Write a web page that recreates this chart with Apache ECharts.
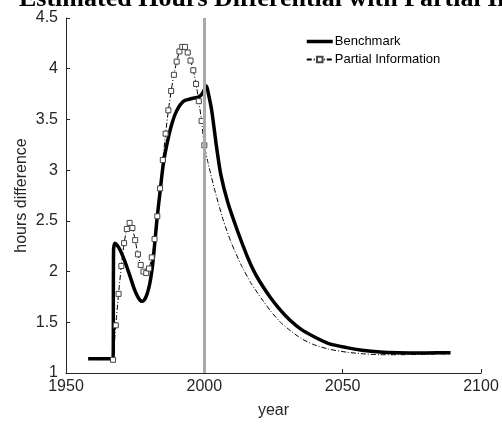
<!DOCTYPE html>
<html>
<head>
<meta charset="utf-8">
<script src="https://cdn.jsdelivr.net/npm/echarts@6/dist/echarts.min.js"></script>
<style>html,body{margin:0;padding:0;background:#fff;}#c{width:502px;height:428px;}</style>
</head>
<body>
<div id="c"></div>
<script>
var titleText = 'Estimated Hours Differential with Partial Information';
var xTicks = [1950, 2000, 2050, 2100];
var yTicks = [1, 1.5, 2, 2.5, 3, 3.5, 4, 4.5];
var policyYear = 2000;

var benchYears = [1958, 1967, 1967.2, 1967.7, 1968.5, 1969.6, 1971, 1972, 1973.2, 1974.4, 1975.6, 1976.8, 1977.5, 1978.3, 1979.2, 1980.2, 1981, 1981.6, 1982.85, 1984.05, 1985.2, 1986.5, 1988.3, 1990.1, 1992.5, 1995.5, 1997.9, 1999.3, 2000.76, 2001.5, 2002.6, 2003.5, 2004.4, 2006, 2008.5, 2012, 2015.5, 2018, 2021, 2024, 2027.5, 2031, 2035, 2039.5, 2045, 2051.5, 2057, 2063.5, 2070, 2080, 2089];
var benchValues = [1.14, 1.14, 2.22, 2.28, 2.26, 2.21, 2.12, 2.045, 1.95, 1.85, 1.77, 1.717, 1.707, 1.72, 1.77, 1.87, 2.0, 2.14, 2.506, 2.80, 3.065, 3.26, 3.46, 3.59, 3.68, 3.706, 3.72, 3.755, 3.83, 3.75, 3.60, 3.42, 3.23, 2.95, 2.68, 2.40, 2.15, 2.0, 1.86, 1.74, 1.62, 1.52, 1.43, 1.36, 1.29, 1.25, 1.225, 1.207, 1.2, 1.198, 1.2];

var partialYears = [1967, 1968, 1969, 1970, 1971, 1972, 1973, 1974, 1975, 1976, 1977, 1978, 1979, 1980, 1981, 1982, 1983, 1984, 1985, 1986, 1987, 1988, 1989, 1990, 1991, 1992, 1993, 1994, 1995, 1996, 1997, 1998, 1999, 2000, 2001.4, 2003.8, 2006.8, 2009.8, 2013.4, 2017, 2021, 2024, 2027.5, 2031, 2035, 2039.5, 2045, 2051.5, 2057, 2063.5, 2070, 2080, 2089];
var partialValues = [1.13, 1.47, 1.78, 2.055, 2.28, 2.42, 2.48, 2.43, 2.31, 2.17, 2.065, 2.0, 1.985, 2.03, 2.14, 2.32, 2.545, 2.82, 3.10, 3.36, 3.59, 3.78, 3.94, 4.07, 4.17, 4.215, 4.215, 4.16, 4.08, 3.985, 3.85, 3.68, 3.485, 3.245, 3.065, 2.80, 2.51, 2.28, 2.06, 1.88, 1.72, 1.61, 1.50, 1.42, 1.34, 1.28, 1.235, 1.205, 1.19, 1.18, 1.18, 1.185, 1.19];
var markerCount = 34; // annual markers 1967..2000

var benchData = benchYears.map(function (y, i) { return [y, benchValues[i]]; });
var partialData = partialYears.map(function (y, i) {
  var item = { value: [y, partialValues[i]] };
  if (i >= markerCount) item.symbol = 'none';
  return item;
});

var axisColor = '#262626';
var font = '"Liberation Sans", Arial, sans-serif';
var chart = echarts.init(document.getElementById('c'), null, { renderer: 'canvas' });
chart.setOption({
  animation: false,
  backgroundColor: '#fff',
  graphic: [{
    type: 'text',
    x: 19, y: 12,
    style: { text: titleText, textAlign: 'left', textVerticalAlign: 'bottom', font: 'bold 26px "Liberation Serif", "DejaVu Serif", serif', fill: '#000' }
  }],
  grid: { left: 66, right: 21, top: 18, bottom: 55, containLabel: false },
  legend: {
    orient: 'vertical', left: 300, top: 30, itemWidth: 26, itemHeight: 7, itemGap: 5,
    textStyle: { fontFamily: font, fontSize: 13, color: '#000', padding: [0, 0, 0, -3] },
    data: [
      { name: 'Benchmark', lineStyle: { width: 3.5 }, itemStyle: { color: 'transparent', borderColor: 'transparent', borderWidth: 0 } },
      { name: 'Partial Information' }
    ]
  },
  xAxis: {
    type: 'value', min: 1950, max: 2100, interval: 50,
    name: 'year', nameLocation: 'middle', nameGap: 30, nameMoveOverlap: false,
    nameTextStyle: { fontFamily: font, fontSize: 16, color: axisColor },
    axisLine: { show: true, lineStyle: { color: axisColor, width: 1 } },
    axisTick: { show: true, inside: true, length: 4, lineStyle: { color: axisColor } },
    axisLabel: { fontFamily: font, fontSize: 16, color: axisColor, margin: 6, formatter: function (v) { return xTicks.indexOf(v) >= 0 ? String(v) : ''; } },
    splitLine: { show: false }
  },
  yAxis: {
    type: 'value', min: 1, max: 4.5, interval: 0.5,
    name: 'hours difference', nameLocation: 'middle', nameGap: 36, nameMoveOverlap: false,
    nameTextStyle: { fontFamily: font, fontSize: 16, color: axisColor },
    axisLine: { show: true, lineStyle: { color: axisColor, width: 1 } },
    axisTick: { show: true, inside: true, length: 4, lineStyle: { color: axisColor } },
    axisLabel: { fontFamily: font, fontSize: 16, color: axisColor, margin: 8, formatter: function (v) { return yTicks.indexOf(v) >= 0 ? String(v) : ''; } },
    splitLine: { show: false }
  },
  series: [
    {
      name: 'Benchmark', type: 'line', data: benchData, smooth: 0.25, symbol: 'none',
      lineStyle: { color: '#000', width: 3.5 }, itemStyle: { color: '#000' }, z: 3,
      markLine: {
        silent: true, symbol: 'none', label: { show: false },
        lineStyle: { color: '#a9a9a9', width: 3, type: 'solid' },
        data: [{ xAxis: policyYear }]
      }
    },
    {
      name: 'Partial Information', type: 'line', data: partialData, smooth: 0.2,
      symbol: 'rect', symbolSize: 5, showAllSymbol: true,
      lineStyle: { color: '#000', width: 1, type: [5, 2, 1, 2] },
      itemStyle: { color: '#fff', borderColor: '#444', borderWidth: 1 }, z: 4
    }
  ]
});
</script>
</body>
</html>
